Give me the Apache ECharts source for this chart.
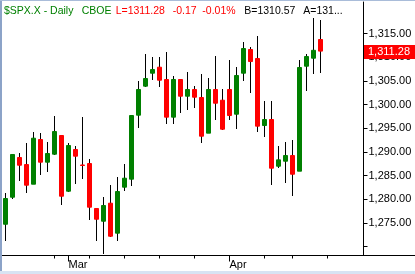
<!DOCTYPE html>
<html><head><meta charset="utf-8">
<script src="https://cdn.jsdelivr.net/npm/echarts@6/dist/echarts.min.js"></script>
<style>html,body{margin:0;padding:0;background:#fff}#c{width:415px;height:274px}</style>
</head><body><div id="c"></div>
<script>
// ---- data ----
const opens  = [1274.70,1280.41,1288.80,1287.32,1283.16,1292.60,1287.81,1289.50,1293.45,1281.68,
                1290.49,1287.22,1287.53,1278.03,1275.34,1279.15,1272.81,1282.53,1284.22,1297.74,
                1303.87,1306.61,1307.88,1305.28,1297.32,1305.28,1301.75,1303.17,1301.48,1293.94,
                1303.17,1300.91,1303.17,1297.95,1306.61,1311.62,1309.72,1295.56,1296.83,1286.96,
                1288.02,1289.22,1285.91,1308.09,1309.78,1313.73];
const closes = [1280.14,1289.44,1287.17,1282.95,1292.88,1287.81,1289.65,1294.29,1280.62,1291.34,
                1289.08,1287.12,1278.30,1275.76,1278.66,1272.17,1281.62,1284.43,1297.67,1303.17,
                1305.49,1307.39,1305.13,1297.32,1305.28,1301.75,1303.17,1301.54,1293.30,1303.17,
                1300.27,1294.78,1297.67,1306.13,1311.83,1309.08,1295.42,1296.83,1286.54,1288.31,
                1289.22,1285.27,1307.82,1310.14,1311.45,1311.28];
const lows   = [1271.26,1280.10,1283.94,1281.26,1283.10,1285.06,1285.70,1289.40,1278.72,1281.60,
                1283.16,1284.22,1275.55,1271.12,1268.37,1272.10,1271.12,1281.68,1282.74,1294.99,
                1303.80,1305.28,1303.65,1295.84,1295.84,1298.16,1298.94,1299.22,1291.82,1293.90,
                1296.68,1294.70,1296.77,1294.86,1304.92,1302.47,1294.15,1293.09,1283.03,1286.54,
                1283.37,1280.62,1285.90,1302.81,1306.40,1306.61];
const highs  = [1281.26,1289.50,1289.65,1291.97,1294.29,1294.08,1292.18,1297.67,1293.50,1291.97,
                1291.13,1297.46,1288.44,1278.10,1280.56,1283.03,1284.58,1287.53,1297.70,1305.07,
                1310.71,1309.99,1310.14,1310.99,1306.06,1305.30,1306.82,1304.01,1306.34,1305.70,
                1310.35,1303.17,1309.30,1307.88,1313.10,1312.25,1314.37,1300.84,1300.84,1291.13,
                1292.18,1292.60,1309.30,1310.71,1318.32,1317.89];
const weekTicks   = [7,12,17,22,27,37,41,46];
const monthTicks  = [9,32];
const monthLabels = ['Mar','Apr'];
const priceTicks  = [1270,1275,1280,1285,1290,1295,1300,1305,1310,1315];
const priceLabels = [1275,1280,1285,1290,1295,1300,1305,1310,1315];
const symbolText   = '$SPX.X - Daily';
const exchangeText = 'CBOE';
const bidValue     = 1310.57;
const askText      = 'A=131...';

// ---- derived ----
const GREEN = '#008000', RED = '#ff0000';
const n = closes.length;
const idx = closes.map((_, i) => i);
const wickData = idx.map(i => [i, lows[i], highs[i]]);
const bodyData = idx.map(i => [i, opens[i], closes[i], Math.min(opens[i], closes[i]), Math.max(opens[i], closes[i])]);
const last = closes[n - 1], prev = closes[n - 2];
const chg = last - prev, pct = chg / prev * 100;
const fmt = v => v.toLocaleString('en-US', {minimumFractionDigits: 2, maximumFractionDigits: 2});
const FONT = '"Liberation Sans", Arial, sans-serif';

const chart = echarts.init(document.getElementById('c'), null, {renderer: 'canvas'});
const xBase = {type: 'value', min: -0.5, max: -0.5 + 361.5 / 7, gridIndex: 0, position: 'bottom',
               splitLine: {show: false}};
chart.setOption({
  animation: false,
  backgroundColor: '#fff',
  grid: {left: 2, right: 51.5, top: 2, bottom: 18.5, containLabel: false},
  xAxis: [
    Object.assign({}, xBase, {
      axisLine: {show: true, onZero: false, lineStyle: {color: '#000', width: 1}},
      axisTick: {show: true, length: 3, customValues: weekTicks, lineStyle: {color: '#000'}},
      axisLabel: {show: false}
    }),
    Object.assign({}, xBase, {
      axisLine: {show: false, onZero: false},
      axisTick: {show: true, length: 6, customValues: monthTicks, lineStyle: {color: '#000'}},
      axisLabel: {show: true, customValues: monthTicks, margin: 4, align: 'left',
                  fontFamily: FONT, fontSize: 11, color: '#000',
                  formatter: v => monthLabels[monthTicks.indexOf(Math.round(v))] || ''}
    })
  ],
  yAxis: {
    type: 'value', position: 'right', min: 1268.099, max: 1321.655,
    splitLine: {show: false},
    axisLine: {show: true, onZero: false, lineStyle: {color: '#000', width: 1}},
    axisTick: {show: true, length: 4, customValues: priceTicks, lineStyle: {color: '#000'}},
    axisLabel: {show: true, customValues: priceLabels, margin: 5, fontFamily: FONT, fontSize: 11,
                color: '#000', formatter: v => fmt(v)}
  },
  series: [
    {
      type: 'custom', xAxisIndex: 0, yAxisIndex: 0, z: 1,
      encode: {x: 0, y: [1, 2]},
      renderItem: function (params, api) {
        const lo = api.coord([api.value(0), api.value(1)]);
        const hi = api.coord([api.value(0), api.value(2)]);
        const x = Math.round(lo[0] - 0.5) + 0.5;
        return {type: 'line', shape: {x1: x, y1: Math.round(lo[1]), x2: x, y2: Math.round(hi[1])},
                style: {stroke: '#000', lineWidth: 1}};
      },
      data: wickData
    },
    {
      type: 'candlestick', xAxisIndex: 0, yAxisIndex: 0, barWidth: 4, z: 2,
      dimensions: ['x', 'open', 'close', 'lowest', 'highest'],
      encode: {x: 0, y: [1, 2, 3, 4]},
      itemStyle: {color: GREEN, color0: RED, borderWidth: 1, borderColor: GREEN, borderColor0: RED},
      emphasis: {disabled: true},
      data: bodyData
    }
  ]
});

const yLast = chart.convertToPixel({yAxisIndex: 0}, last);
const TFONT = '10.5px ' + FONT;
const txt = (x, text, color) => ({type: 'text', x: x, y: 11, z: 100,
  style: {text: text, fill: color, font: TFONT, textVerticalAlign: 'middle'}});
chart.setOption({
  graphic: [
    {type: 'rect', shape: {x: 0, y: 0, width: 2, height: 274}, style: {fill: '#8ca3c8'}, z: 100},
    {type: 'rect', shape: {x: 0, y: 0, width: 415, height: 1}, style: {fill: '#a9bcd9'}, z: 100},
    {type: 'rect', shape: {x: 0, y: 271, width: 415, height: 3}, style: {fill: '#d8e3f3'}, z: 100},
    {type: 'line', shape: {x1: 363, y1: 255.5, x2: 415, y2: 255.5}, style: {stroke: '#000', lineWidth: 1}, z: 100},
    txt(4, symbolText, GREEN),
    txt(81.7, exchangeText, GREEN),
    txt(115.7, 'L=' + last.toFixed(2), RED),
    txt(172.7, chg.toFixed(2), RED),
    txt(202.3, pct.toFixed(2) + '%', RED),
    txt(244.3, 'B=' + bidValue.toFixed(2), '#000'),
    txt(303.3, askText, '#000'),
    {type: 'rect', z: 100, shape: {x: 364, y: Math.round(yLast) - 6, width: 51, height: 14}, style: {fill: RED}},
    {type: 'text', z: 101, x: 368, y: Math.round(yLast) + 1,
     style: {text: fmt(last), fill: '#fff', font: '11px ' + FONT, textVerticalAlign: 'middle'}}
  ]
});
</script></body></html>
